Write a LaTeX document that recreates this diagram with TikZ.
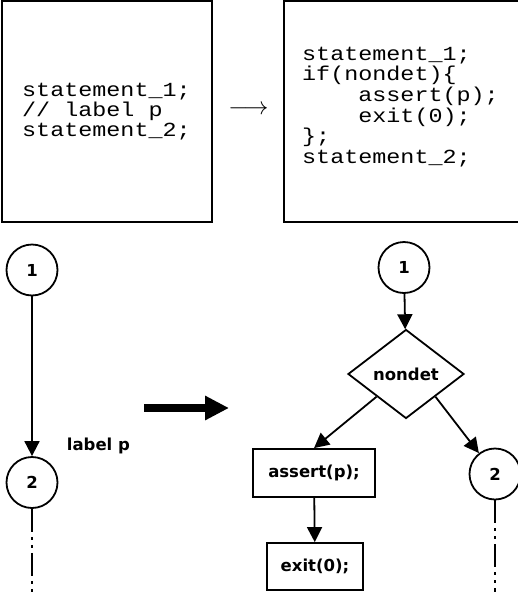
\documentclass[tikz,border=0pt]{standalone}
\usepackage{fontspec}
\setsansfont{DejaVu Sans}
\newfontfamily\codeFont[FakeStretch=1.17]{Liberation Mono}
\usetikzlibrary{shapes.geometric,arrows.meta}
\newcommand\boxLineWidth{2.6pt}
\newcommand\flowLineWidth{1.8pt}
\newcommand\circleSize{51pt}
\newcommand\bigArrowWidth{8pt}
\newcommand\leftCodeSkip{20}
\newcommand\rightCodeSkip{20.7}
\newcommand\indentCode{\hphantom{xxxx}}

\begin{document}
\begin{tikzpicture}[x=1pt, y=-1pt,
    codebox/.style={draw=black, line width=\boxLineWidth, shape=rectangle, anchor=center},
    flownode/.style={draw=black, line width=\flowLineWidth, font=\sffamily\bfseries\fontsize{16.5}{16.5}\selectfont, inner sep=0pt},
    stepcircle/.style={flownode, shape=circle, minimum size=\circleSize},
    stepbox/.style={flownode, shape=rectangle},
    flowarrow/.style={line width=\flowLineWidth, -{Triangle[length=15pt,width=15pt]}},
    dashline/.style={line width=\flowLineWidth, dash pattern=on 23pt off 5pt on 3pt off 5pt on 3pt off 5pt}]

    \useasboundingbox (0,0) rectangle (517,592);

    % the two code boxes
    \node [codebox, minimum width=210pt, minimum height=221pt] (leftBox) at (107,111.5) {};
    \node [codebox, minimum width=235pt, minimum height=221pt] (rightBox) at (401.5,111.5) {};

    \node [anchor=west, align=left, inner sep=0pt, font=\codeFont\fontsize{20}{\leftCodeSkip}\selectfont] (leftCode) at (22,112)
        {statement\_1;\\// label p\\statement\_2;};
    \node [anchor=west, align=left, inner sep=0pt, font=\codeFont\fontsize{20}{\rightCodeSkip}\selectfont] (rightCode) at (302,107)
        {statement\_1;\\if(nondet)\{\\\indentCode assert(p);\\\indentCode exit(0);\\\};\\statement\_2;};

    \node [inner sep=0pt, font=\fontsize{23}{23}\selectfont] (codeArrow) at (248.5,110) {$\longrightarrow$};

    % left graph
    \node [stepcircle] (leftOne) at (32,270) {1};
    \node [stepcircle] (leftTwo) at (32,482.5) {2};
    \node [flownode, draw=none, anchor=west] (labelP) at (66,446) {label p};
    \coordinate (leftEnd) at (32,595);

    \draw [flowarrow] (leftOne) -- (leftTwo);
    \draw [dashline] (leftTwo) -- (leftEnd);

    % big arrow in between
    \coordinate (bigFrom) at (144,408);
    \coordinate (bigTo) at (229,408);
    \draw [line width=\bigArrowWidth, -{Triangle[length=24pt,width=23pt]}] (bigFrom) -- (bigTo);

    % right graph
    \node [stepcircle] (rightOne) at (404,267.5) {1};
    \node [flownode, shape=diamond, minimum width=116pt, minimum height=89pt] (nondet) at (406,374) {nondet};
    \node [stepbox, minimum width=122pt, minimum height=48pt] (assertBox) at (314,473) {assert(p);};
    \node [stepbox, minimum width=96pt, minimum height=47pt] (exitBox) at (315,566.5) {exit(0);};
    \node [stepcircle] (rightTwo) at (495,474) {2};
    \coordinate (rightEnd) at (495,595);

    \draw [flowarrow] (rightOne) -- (nondet);
    \draw [flowarrow] (nondet.south west) -- (assertBox.north);
    \draw [flowarrow] (nondet.south east) -- (rightTwo);
    \draw [flowarrow] (assertBox) -- (exitBox);
    \draw [dashline] (rightTwo) -- (rightEnd);

\end{tikzpicture}
\end{document}
